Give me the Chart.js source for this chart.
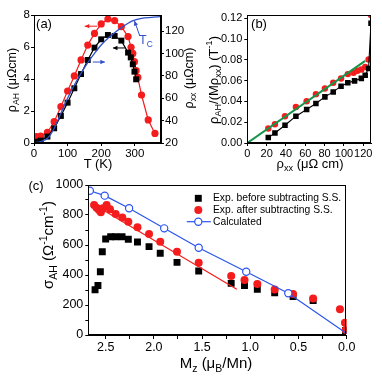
<!DOCTYPE html>
<html>
<head>
<meta charset="utf-8">
<script src="https://cdn.jsdelivr.net/npm/chart.js@4.4.0/dist/chart.umd.min.js"></script>
<style>
  body { margin: 0; background: #fff; }
  #wrap { position: relative; width: 382px; height: 378px; overflow: hidden; font-family: 'Liberation Sans', Arial, sans-serif; }
  canvas { position: absolute; }
  .t { position: absolute; white-space: nowrap; font-size: 12.5px; color: #000; line-height: 1; transform: translate(-50%, -50%); }
  .r { transform: translate(-50%, -50%) rotate(-90deg); }
  sub, sup { font-size: 70%; line-height: 0; }
</style>
</head>
<body>
<div id="wrap">
  <canvas id="ca" width="200" height="175" style="left:0;top:0"></canvas>
  <canvas id="cb" width="182" height="175" style="left:200px;top:0"></canvas>
  <canvas id="cc" width="382" height="203" style="left:0;top:175px"></canvas>

  <div class="t" style="left:44px;top:23px;font-size:13px">(a)</div>
  <div class="t r" style="left:12px;top:80px">&rho;<sub>AH</sub> (&mu;&Omega;cm)</div>
  <div class="t r" style="left:189px;top:78px">&rho;<sub>xx</sub> (&mu;&Omega;cm)</div>
  <div class="t" style="left:98px;top:163px;font-size:13px">T (K)</div>
  <div class="t" style="left:146px;top:40px;color:#3050c8;font-size:12px">T<sub>C</sub></div>

  <div class="t" style="left:259px;top:23px;font-size:13px">(b)</div>
  <div class="t r" style="left:213px;top:80px;font-size:13px">&rho;<sub>AH</sub>/(M&rho;<sub>xx</sub>) (T<sup>-1</sup>)</div>
  <div class="t" style="left:310px;top:163px;font-size:13px">&rho;<sub>xx</sub> (&mu;&Omega; cm)</div>

  <div class="t" style="left:36px;top:185px;font-size:13px">(c)</div>
  <div class="t r" style="left:47px;top:245px;font-size:15px">&sigma;<sub>AH</sub> (&Omega;<sup>-1</sup>cm<sup>-1</sup>)</div>
  <div class="t" style="left:216px;top:362px;font-size:15px">M<sub>z</sub> (&mu;<sub>B</sub>/Mn)</div>
</div>
<script>
// (a) rho_AH and rho_xx vs temperature
const tempBlack = [7, 20, 40, 60, 80, 100, 120, 140, 160, 180, 200, 220, 240, 260, 280, 288, 294, 299, 304];
const rhoAHBlack = [0.08, 0.15, 0.4, 0.92, 1.69, 2.52, 3.42, 4.31, 5.19, 5.96, 6.48, 6.75, 6.69, 6.4, 5.65, 5.35, 4.92, 4.46, 3.98];
const tempRed = [7, 20, 40, 60, 80, 100, 120, 140, 160, 180, 200, 220, 240, 260, 280, 289, 294, 299, 304, 309, 320, 340, 360];
const rhoAHRed = [0.4, 0.43, 0.67, 1.33, 2.27, 3.25, 4.19, 5.19, 6.12, 6.85, 7.44, 7.75, 7.65, 7.27, 6.65, 5.98, 5.6, 5.08, 4.52, 4.1, 3.0, 1.44, 0.6];
const tempXX = [0, 20, 40, 60, 80, 100, 120, 140, 160, 180, 200, 220, 240, 260, 280, 295, 320, 350, 375];
const rhoXX = [20.3, 21.3, 24.2, 33, 46.5, 60, 71.8, 82.2, 91.7, 100, 107.5, 113.5, 118.5, 123, 126.9, 129.2, 131.3, 132.2, 132.8];
const ticksTa = [0, 100, 200, 300];
const ticksAH = [0, 2, 4, 6, 8];
const ticksXX = [20, 40, 60, 80, 100, 120];

// (b) rho_AH/(M rho_xx) vs rho_xx
const rxxBlack = [21.7, 28.6, 39, 50.3, 61.4, 71, 80.3, 88.9, 97, 104, 111, 118, 122, 125.5, 128];
const ratioBlack = [0.0052, 0.0096, 0.0171, 0.0258, 0.0322, 0.038, 0.0444, 0.0492, 0.0547, 0.0579, 0.0598, 0.0622, 0.0653, 0.0718, 0.1152];
const rxxRed = [21.7, 28.6, 39, 50.3, 61.4, 71, 80.3, 88.9, 97, 104, 110, 114, 118, 122, 125.5, 128];
const ratioRed = [0.0139, 0.018, 0.0258, 0.0347, 0.0402, 0.047, 0.0525, 0.058, 0.0621, 0.0663, 0.0675, 0.0695, 0.0708, 0.0733, 0.0804, 0.1232];
const fitRxx = [0, 122];
const fitRatio = [0, 0.079];
const ticksRxx = [0, 20, 40, 60, 80, 100, 120];
const ticksRatio = [0, 0.02, 0.04, 0.06, 0.08, 0.10, 0.12];

// (c) sigma_AH vs Mz
const mzBefore = [2.61, 2.58, 2.555, 2.535, 2.5, 2.448, 2.396, 2.33, 2.265, 2.17, 2.05, 1.934, 1.76, 1.535, 1.198, 1.06, 0.927, 0.747, 0.556, 0.348, 0.012];
const sigBefore = [302, 330, 422, 555, 640, 655, 655, 655, 638, 620, 589, 545, 484, 427, 344, 329, 304, 282, 256, 229, 30];
const mzAfter = [2.62, 2.594, 2.57, 2.55, 2.528, 2.49, 2.455, 2.396, 2.327, 2.265, 2.17, 2.05, 1.934, 1.76, 1.535, 1.198, 1.06, 0.927, 0.747, 0.556, 0.348, 0.07, 0.018, 0.01];
const sigAfter = [867, 849, 833, 818, 845, 867, 838, 807, 784, 755, 718, 673, 622, 555, 482, 393, 367, 340, 304, 273, 244, 171, 82, 33];
const mzFit = [2.62, 1.14];
const sigFit = [868, 305];
const mzCalc = [2.664, 2.51, 2.257, 1.893, 1.535, 1.042, 0.606, 0];
const sigCalc = [962, 929, 845, 711, 582, 422, 278, 10];
const ticksMz = [0, 0.25, 0.5, 0.75, 1, 1.25, 1.5, 1.75, 2, 2.25, 2.5];
const ticksSig = [0, 100, 200, 300, 400, 500, 600, 700, 800, 900, 1000];
const legendLabels = ['Exp. before subtracting S.S.', 'Exp. after subtracting S.S.', 'Calculated'];

const RED = '#f41c1c';
const BLUE = '#3050c8';
const BLUE_C = '#2a55f0';
const GREEN = '#17944a';
const FAMILY = "'Liberation Sans', Arial, sans-serif";

const pts = (xs, ys) => xs.map((x, i) => ({ x: x, y: ys[i] }));
const setTicks = vals => scale => { scale.ticks = vals.map(v => ({ value: v })); };

function axis(extra, size, tickExtra) {
    const a = Object.assign({
        type: 'linear',
        grid: { display: true, drawOnChartArea: false, color: '#000', tickLength: 3 },
        border: { display: true, color: '#000', width: 1 }
    }, extra);
    a.ticks = Object.assign({ font: { family: FAMILY, size: size }, color: '#000', padding: 1,
                              maxRotation: 0, minRotation: 0, autoSkip: false }, tickExtra || {});
    return a;
}

// frame box, arrows and legend
const extras = {
    id: 'extras',
    afterDraw(chart, args, opts) {
        const ctx = chart.ctx;
        const a = chart.chartArea;
        ctx.save();
        ctx.strokeStyle = '#000';
        ctx.lineWidth = 1;
        ctx.strokeRect(Math.round(a.left) + 0.5, Math.round(a.top) + 0.5, Math.round(a.right - a.left) - 1, Math.round(a.bottom - a.top) - 1);

        (opts.arrows || []).forEach(ar => {
            const ys = chart.scales[ar.axis];
            const x1 = chart.scales.x.getPixelForValue(ar.from[0]), y1 = ys.getPixelForValue(ar.from[1]);
            const x2 = chart.scales.x.getPixelForValue(ar.to[0]), y2 = ys.getPixelForValue(ar.to[1]);
            const ang = Math.atan2(y2 - y1, x2 - x1);
            ctx.strokeStyle = ar.color;
            ctx.fillStyle = ar.color;
            ctx.lineWidth = 1;
            ctx.beginPath();
            ctx.moveTo(x1, y1);
            ctx.lineTo(x2, y2);
            ctx.stroke();
            ctx.beginPath();
            ctx.moveTo(x2, y2);
            ctx.lineTo(x2 - 5 * Math.cos(ang - 0.45), y2 - 5 * Math.sin(ang - 0.45));
            ctx.lineTo(x2 - 5 * Math.cos(ang + 0.45), y2 - 5 * Math.sin(ang + 0.45));
            ctx.closePath();
            ctx.fill();
        });

        if (opts.legend) {
            const L = opts.legend;
            ctx.font = '10.3px ' + FAMILY;
            ctx.textBaseline = 'middle';
            L.items.forEach((it, i) => {
                const y = L.y + i * L.gap;
                if (it.line) {
                    ctx.strokeStyle = it.color;
                    ctx.lineWidth = 1.2;
                    ctx.beginPath();
                    ctx.moveTo(L.x - 11.5, y);
                    ctx.lineTo(L.x + 12.5, y);
                    ctx.stroke();
                }
                ctx.save();
                ctx.strokeStyle = it.color;
                ctx.fillStyle = it.open ? '#fff' : it.color;
                ctx.beginPath();
                if (it.style === 'rect') {
                    ctx.rect(L.x - it.radius * 0.707, y - it.radius * 0.707, it.radius * 1.414, it.radius * 1.414);
                } else {
                    ctx.arc(L.x, y, it.radius, 0, Math.PI * 2);
                }
                ctx.fill();
                if (it.open) { ctx.lineWidth = 1.2; ctx.stroke(); }
                ctx.restore();
                ctx.fillStyle = '#000';
                ctx.fillText(it.text, L.textX, y);
            });
        }
        ctx.restore();
    }
};

const base = {
    animation: false,
    responsive: false,
    events: []
};

// panel (a)
new Chart(document.getElementById('ca'), {
    type: 'scatter',
    data: {
        datasets: [
            { data: pts(tempXX, rhoXX), yAxisID: 'y2', showLine: true, borderColor: BLUE, borderWidth: 1.3,
              pointRadius: 0, tension: 0.4, cubicInterpolationMode: 'monotone', order: 0 },
            { data: pts(tempBlack, rhoAHBlack), yAxisID: 'y', showLine: true, borderColor: '#000', backgroundColor: '#000',
              borderWidth: 1.2, pointStyle: 'rect', pointRadius: 4.2, pointBorderWidth: 0, order: 1 },
            { data: pts(tempRed, rhoAHRed), yAxisID: 'y', showLine: true, borderColor: RED, backgroundColor: RED,
              borderWidth: 1.2, pointStyle: 'circle', pointRadius: 3.6, pointBorderWidth: 0, order: 2 }
        ]
    },
    options: Object.assign({}, base, {
        layout: { padding: { top: 15, right: 0, left: 0, bottom: 0 } },
        scales: {
            x: axis({ min: 0, max: 378, afterBuildTicks: setTicks(ticksTa), afterFit: s => { s.height = 32; } }, 11.5),
            y: axis({ position: 'left', min: 0, max: 8, afterBuildTicks: setTicks(ticksAH), afterFit: s => { s.width = 34; } }, 11.5),
            y2: axis({ position: 'right', min: 20, max: 134.3, afterBuildTicks: setTicks(ticksXX), afterFit: s => { s.width = 39; } }, 11.5)
        },
        plugins: {
            legend: { display: false },
            tooltip: { enabled: false },
            extras: {
                arrows: [
                    { axis: 'y', from: [188, 7.3], to: [151, 7.3], color: RED },
                    { axis: 'y', from: [271, 5.94], to: [235, 5.94], color: '#000' },
                    { axis: 'y2', from: [175, 92.3], to: [211, 92.3], color: BLUE },
                    { axis: 'y2', from: [315, 115.5], to: [299, 129], color: BLUE }
                ]
            }
        }
    }),
    plugins: [extras]
});

// panel (b)
new Chart(document.getElementById('cb'), {
    type: 'scatter',
    data: {
        datasets: [
            { data: pts(fitRxx, fitRatio), showLine: true, borderColor: GREEN, borderWidth: 2, pointRadius: 0, order: 0 },
            { data: pts(rxxBlack, ratioBlack), showLine: true, borderColor: '#000', backgroundColor: '#000',
              borderWidth: 1.1, pointStyle: 'rect', pointRadius: 3.9, pointBorderWidth: 0, order: 1 },
            { data: pts(rxxRed, ratioRed), showLine: false, backgroundColor: RED,
              pointStyle: 'circle', pointRadius: 3.2, pointBorderWidth: 0, order: 2 }
        ]
    },
    options: Object.assign({}, base, {
        layout: { padding: { top: 15, right: 11, left: 0, bottom: 0 } },
        scales: {
            x: axis({ min: 0, max: 128, afterBuildTicks: setTicks(ticksRxx), afterFit: s => { s.height = 32; } }, 11),
            y: axis({ min: 0, max: 0.1232, afterBuildTicks: setTicks(ticksRatio), afterFit: s => { s.width = 47.3; } }, 11,
                    { padding: 2, callback: v => v.toFixed(2) })
        },
        plugins: { legend: { display: false }, tooltip: { enabled: false }, extras: {} }
    }),
    plugins: [extras]
});

// panel (c)
new Chart(document.getElementById('cc'), {
    type: 'scatter',
    data: {
        datasets: [
            { data: pts(mzCalc, sigCalc), showLine: true, borderColor: BLUE_C, backgroundColor: '#fff', borderWidth: 1.2,
              pointStyle: 'circle', pointRadius: mzCalc.map((m, i) => i === mzCalc.length - 1 ? 0 : 3.6),
              pointBorderWidth: 1.2, pointBorderColor: BLUE_C, order: 0 },
            { data: pts(mzAfter, sigAfter), showLine: false, backgroundColor: RED,
              pointStyle: 'circle', pointRadius: 4, pointBorderWidth: 0, order: 1 },
            { data: pts(mzFit, sigFit), showLine: true, borderColor: RED, borderWidth: 1.2, pointRadius: 0, order: 2 },
            { data: pts(mzBefore, sigBefore), showLine: false, backgroundColor: '#000',
              pointStyle: 'rect', pointRadius: 4.9, pointBorderWidth: 0, order: 3 }
        ]
    },
    options: Object.assign({}, base, {
        layout: { padding: { top: 10, right: 35.3, left: 0, bottom: 0 } },
        scales: {
            x: axis({ min: 0, max: 2.68, reverse: true, afterBuildTicks: setTicks(ticksMz), afterFit: s => { s.height = 43; },
                      grid: { display: true, drawOnChartArea: false, color: '#000', tickLength: 4 } }, 12.5,
                    { callback: v => Math.abs(v * 2 - Math.round(v * 2)) < 1e-6 ? v.toFixed(1) : '' }),
            y: axis({ min: 0, max: 1000, afterBuildTicks: setTicks(ticksSig), afterFit: s => { s.width = 88.3; } }, 12.5,
                    { padding: 2, callback: v => v % 200 === 0 ? String(v) : '' })
        },
        plugins: {
            legend: { display: false },
            tooltip: { enabled: false },
            extras: {
                legend: {
                    x: 198.3, textX: 213, y: 23.3, gap: 11.7,
                    items: [
                        { text: legendLabels[0], color: '#000', style: 'rect', radius: 4.9 },
                        { text: legendLabels[1], color: RED, style: 'circle', radius: 4 },
                        { text: legendLabels[2], color: BLUE_C, style: 'circle', radius: 3.6, open: true, line: true }
                    ]
                }
            }
        }
    }),
    plugins: [extras]
});
</script>
</body>
</html>
